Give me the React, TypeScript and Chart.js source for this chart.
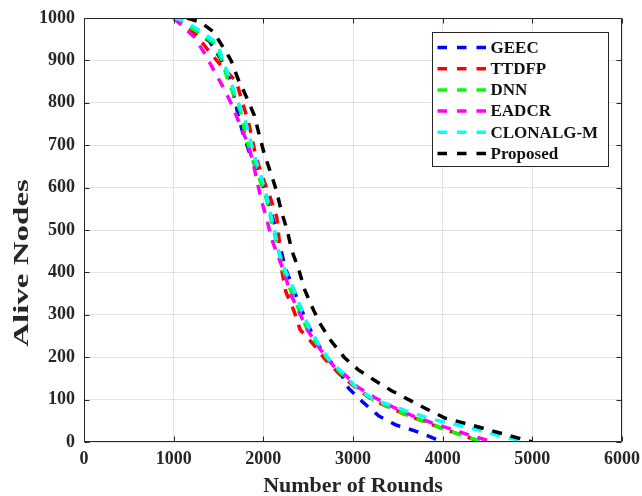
import React, { useEffect, useRef } from 'react';
import { Chart, registerables } from 'chart.js';

Chart.register(...registerables);

// ---- data ----
const seriesNames = ['GEEC', 'TTDFP', 'DNN', 'EADCR', 'CLONALG-M', 'Proposed'];
const seriesColors = ['#0000ff', '#ff0000', '#00ff00', '#ff00ff', '#00ffff', '#000000'];

const xTickValues = [0, 1000, 2000, 3000, 4000, 5000, 6000];
const yTickValues = [0, 100, 200, 300, 400, 500, 600, 700, 800, 900, 1000];

const geecRounds = [1000, 1200, 1400, 1520, 1620, 1680, 1720, 1770, 1850, 1930, 2000, 2070, 2130, 2190, 2240, 2320, 2400, 2490, 2580, 2690, 2850, 2950, 3110, 3290, 3480, 3680, 3890, 3980];
const geecAlive = [1000, 975, 945, 905, 860, 810, 770, 730, 680, 640, 600, 553, 510, 460, 413, 370, 325, 280, 240, 203, 167, 127, 94, 61, 40, 27, 10, 0];

const ttdfpRounds = [1000, 1250, 1400, 1540, 1700, 1760, 1820, 1850, 1920, 2000, 2080, 2150, 2170, 2190, 2210, 2250, 2340, 2410, 2560, 2690, 2850, 3020, 3210, 3400, 3600, 3820, 4020, 4230, 4430];
const ttdfpAlive = [1000, 960, 920, 885, 850, 805, 765, 740, 670, 620, 575, 530, 490, 445, 400, 355, 310, 265, 230, 195, 160, 130, 100, 82, 63, 46, 30, 15, 0];

const dnnRounds = [1000, 1250, 1450, 1550, 1600, 1690, 1760, 1800, 1870, 1940, 2020, 2070, 2120, 2170, 2230, 2300, 2380, 2480, 2600, 2720, 2880, 3030, 3220, 3410, 3610, 3820, 4020, 4230, 4450];
const dnnAlive = [1000, 970, 940, 895, 855, 810, 770, 720, 675, 630, 585, 540, 495, 450, 402, 360, 320, 270, 230, 195, 160, 130, 100, 82, 63, 47, 30, 15, 0];

const eadcrRounds = [1000, 1230, 1350, 1465, 1570, 1660, 1740, 1830, 1885, 1935, 1985, 2040, 2090, 2170, 2250, 2290, 2380, 2490, 2630, 2780, 2930, 3050, 3240, 3450, 3660, 3880, 4070, 4290, 4560];
const eadcrAlive = [1000, 955, 915, 870, 830, 790, 748, 702, 660, 610, 565, 525, 480, 435, 390, 355, 315, 265, 220, 180, 155, 130, 105, 82, 62, 45, 32, 17, 0];

const clonalgRounds = [1000, 1100, 1290, 1490, 1550, 1630, 1700, 1790, 1840, 1900, 1970, 2030, 2080, 2130, 2170, 2250, 2340, 2410, 2510, 2620, 2750, 2900, 3030, 3230, 3430, 3640, 3860, 4060, 4270, 4470, 4680, 4950];
const clonalgAlive = [1000, 995, 970, 940, 900, 855, 810, 765, 725, 675, 630, 585, 540, 495, 450, 402, 360, 320, 270, 230, 190, 160, 130, 100, 86, 70, 55, 45, 35, 25, 12, 0];

const proposedRounds = [1150, 1300, 1440, 1540, 1640, 1720, 1820, 1900, 1950, 2010, 2090, 2150, 2200, 2265, 2320, 2390, 2460, 2540, 2630, 2750, 2900, 3060, 3230, 3430, 3620, 3820, 4030, 4230, 4440, 4660, 4880, 5000];
const proposedAlive = [1000, 990, 968, 935, 900, 855, 810, 770, 728, 680, 630, 590, 545, 500, 450, 410, 360, 320, 280, 240, 200, 170, 147, 121, 100, 78, 56, 45, 33, 20, 7, 0];

const seriesRounds = [geecRounds, ttdfpRounds, dnnRounds, eadcrRounds, clonalgRounds, proposedRounds];
const seriesAlive = [geecAlive, ttdfpAlive, dnnAlive, eadcrAlive, clonalgAlive, proposedAlive];

const xTitle = 'Number of Rounds';
const yTitle = 'Alive Nodes';

const AXIS_COLOR = '#262626';
const FONT = '"Liberation Serif", "Times New Roman", serif';

const framePlugin = {
  id: 'matlabFrame',
  afterDatasetsDraw(chart: any) {
    const { ctx, chartArea, scales } = chart;
    const { left, right, top, bottom } = chartArea;
    const xs = scales.x;
    const ys = scales.y;
    ctx.save();
    ctx.strokeStyle = AXIS_COLOR;
    ctx.lineWidth = 1;
    ctx.setLineDash([]);
    const L = Math.round(left) + 0.5;
    const R = Math.round(right) - 0.5;
    const T = Math.round(top) + 0.5;
    const B = Math.round(bottom) - 0.5;
    ctx.beginPath();
    ctx.rect(L, T, R - L, B - T);
    ctx.stroke();
    const tl = 5;
    ctx.beginPath();
    xTickValues.forEach((v) => {
      const px = Math.round(xs.getPixelForValue(v)) + 0.5;
      ctx.moveTo(px, B);
      ctx.lineTo(px, B - tl);
      ctx.moveTo(px, T);
      ctx.lineTo(px, T + tl);
    });
    yTickValues.forEach((v) => {
      const py = Math.round(ys.getPixelForValue(v)) + 0.5;
      ctx.moveTo(L, py);
      ctx.lineTo(L + tl, py);
      ctx.moveTo(R, py);
      ctx.lineTo(R - tl, py);
    });
    ctx.stroke();

    // axis titles
    ctx.fillStyle = AXIS_COLOR;
    ctx.font = `bold 22px ${FONT}`;
    ctx.textAlign = 'center';
    ctx.textBaseline = 'middle';
    ctx.fillText(xTitle, (left + right) / 2, 486);
    ctx.save();
    ctx.translate(22, 263);
    ctx.rotate(-Math.PI / 2);
    ctx.scale(1.5, 1);
    ctx.fillText(yTitle, 0, 0);
    ctx.restore();

    // legend
    const lx = Math.round(right) - 14 + 0.5;
    const ly = Math.round(top) + 14 + 0.5;
    const lw = -176;
    const lh = 134;
    const bx = lx + lw;
    ctx.fillStyle = '#ffffff';
    ctx.fillRect(bx, ly, -lw, lh);
    ctx.strokeStyle = AXIS_COLOR;
    ctx.lineWidth = 1;
    ctx.strokeRect(bx, ly, -lw, lh);
    ctx.font = `bold 17px ${FONT}`;
    ctx.textAlign = 'left';
    ctx.textBaseline = 'middle';
    seriesNames.forEach((name, i) => {
      const cy = ly + 15 + i * 21.2;
      ctx.strokeStyle = seriesColors[i];
      ctx.lineWidth = 3.5;
      ctx.setLineDash([9.5, 10]);
      ctx.beginPath();
      ctx.moveTo(bx + 5, cy);
      ctx.lineTo(bx + 54, cy);
      ctx.stroke();
      ctx.setLineDash([]);
      ctx.fillStyle = '#111111';
      ctx.fillText(name, bx + 58, cy + 1);
    });
    ctx.restore();
  },
};

export default function App() {
  const canvasRef = useRef<HTMLCanvasElement | null>(null);

  useEffect(() => {
    document.body.style.margin = '0';
    const canvas = canvasRef.current;
    if (!canvas) return;
    const datasets = seriesNames.map((name, i) => ({
      label: name,
      data: seriesRounds[i].map((r, j) => ({ x: r, y: seriesAlive[i][j] })),
      borderColor: seriesColors[i],
      backgroundColor: seriesColors[i],
      borderWidth: 3.5,
      borderDash: [10, 9],
      pointRadius: 0,
      tension: 0,
      fill: false,
      order: 10 - i,
    }));
    const chart = new Chart(canvas, {
      type: 'line',
      data: { datasets },
      options: {
        animation: false,
        responsive: false,
        maintainAspectRatio: false,
        layout: { padding: { left: 0, right: 20, top: 18, bottom: 0 } },
        plugins: {
          legend: { display: false },
          tooltip: { enabled: false },
          title: { display: false },
        },
        scales: {
          x: {
            type: 'linear',
            min: 0,
            max: 6000,
            afterBuildTicks: (scale: any) => {
              scale.ticks = xTickValues.map((v) => ({ value: v }));
            },
            afterFit: (scale: any) => {
              scale.height = 54;
              scale.paddingLeft = 0;
              scale.paddingRight = 0;
            },
            grid: { color: 'rgba(38,38,38,0.13)', drawTicks: false, lineWidth: 1 },
            border: { display: false },
            ticks: {
              padding: 7,
              color: AXIS_COLOR,
              font: { family: FONT, size: 18, weight: 'bold' },
              maxRotation: 0,
              autoSkip: false,
              callback: (v: any) => String(v),
            },
          },
          y: {
            type: 'linear',
            min: 0,
            max: 1000,
            afterBuildTicks: (scale: any) => {
              scale.ticks = yTickValues.map((v) => ({ value: v }));
            },
            afterFit: (scale: any) => {
              scale.width = 84;
              scale.paddingTop = 0;
              scale.paddingBottom = 0;
            },
            grid: { color: 'rgba(38,38,38,0.13)', drawTicks: false, lineWidth: 1 },
            border: { display: false },
            ticks: {
              padding: 9,
              color: AXIS_COLOR,
              font: { family: FONT, size: 18, weight: 'bold' },
              autoSkip: false,
              callback: (v: any) => String(v),
            },
          },
        },
      },
      plugins: [framePlugin],
    });
    return () => chart.destroy();
  }, []);

  return (
    <div style={{ position: 'absolute', left: 0, top: 0, width: 642, height: 496, background: '#ffffff' }}>
      <canvas ref={canvasRef} width={642} height={496} style={{ width: 642, height: 496, display: 'block' }} />
    </div>
  );
}
